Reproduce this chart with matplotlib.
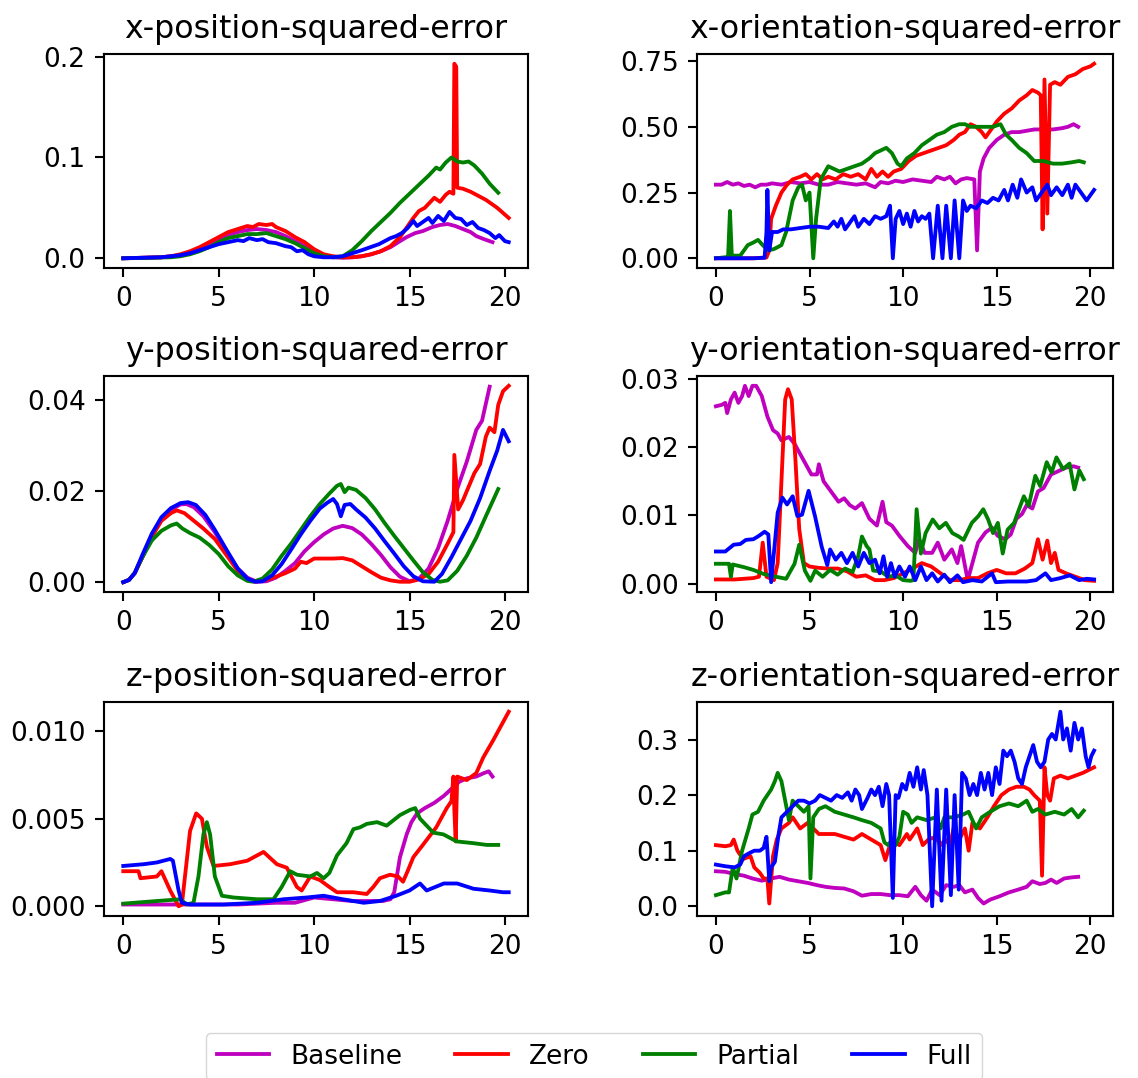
import numpy as np
import matplotlib
matplotlib.use("Agg")
import matplotlib.pyplot as plt

# (time [s], squared error) pairs for each run
xpos_base = [(0, 0.0), (1, 0.0005), (2, 0.001), (2.5, 0.002), (3, 0.003), (3.5, 0.005), (4, 0.009), (4.5, 0.014),
             (5, 0.019), (5.5, 0.023), (6, 0.026), (6.5, 0.028), (7, 0.029), (7.5, 0.028), (8, 0.026), (8.5, 0.022),
             (9, 0.017), (9.5, 0.012), (10, 0.007), (10.5, 0.003), (11, 0.001), (11.5, 0.0005), (12, 0.001),
             (12.5, 0.002), (13, 0.004), (13.5, 0.007), (14, 0.011), (14.5, 0.017), (14.85, 0.021), (15.3, 0.025),
             (15.7, 0.027), (16.2, 0.031), (16.6, 0.033), (17.0, 0.034), (17.4, 0.032), (17.8, 0.029), (18.2, 0.026),
             (18.5, 0.022), (18.9, 0.019), (19.35, 0.016)]
xpos_zero = [(0, 0.0), (1, 0.0005), (2, 0.001), (2.5, 0.002), (3, 0.004), (3.5, 0.007), (4, 0.011), (4.5, 0.016),
             (5, 0.021), (5.5, 0.026), (6, 0.029), (6.5, 0.032), (6.8, 0.031), (7.1, 0.034), (7.5, 0.033),
             (7.8, 0.034), (8, 0.031), (8.5, 0.027), (9, 0.021), (9.5, 0.016), (10, 0.009), (10.5, 0.004),
             (11, 0.002), (11.5, 0.001), (12, 0.001), (12.5, 0.002), (13, 0.004), (13.5, 0.007), (14, 0.012),
             (14.5, 0.021), (14.8, 0.029), (15.2, 0.04), (15.5, 0.047), (15.8, 0.05), (16.1, 0.056), (16.3, 0.06),
             (16.6, 0.056), (16.9, 0.063), (17.1, 0.066), (17.3, 0.064), (17.35, 0.193), (17.45, 0.19), (17.5, 0.07),
             (17.8, 0.069), (18.2, 0.066), (18.6, 0.062), (19, 0.058), (19.3, 0.054), (19.6, 0.05), (19.9, 0.045),
             (20.2, 0.04)]
xpos_partial = [(0, 0.0), (1, 0.0003), (2, 0.0008), (2.5, 0.001), (3, 0.002), (3.5, 0.004), (4, 0.007), (4.5, 0.011),
                (5, 0.016), (5.5, 0.02), (6, 0.022), (6.5, 0.024), (7, 0.024), (7.5, 0.025), (8, 0.022), (8.5, 0.019),
                (9, 0.015), (9.5, 0.01), (10, 0.005), (10.5, 0.002), (11, 0.001), (11.5, 0.002), (12, 0.008),
                (12.5, 0.017), (13, 0.027), (13.5, 0.036), (14, 0.045), (14.5, 0.055), (15, 0.064), (15.5, 0.073),
                (16, 0.082), (16.4, 0.09), (16.6, 0.088), (16.9, 0.095), (17.2, 0.1), (17.5, 0.096), (17.8, 0.095),
                (18.1, 0.096), (18.4, 0.092), (18.8, 0.084), (19.2, 0.074), (19.65, 0.065)]
xpos_full = [(0, 0.0), (1, 0.0005), (2, 0.001), (2.5, 0.002), (3, 0.003), (3.5, 0.005), (4, 0.008), (4.5, 0.011),
             (5, 0.014), (5.5, 0.016), (6, 0.018), (6.3, 0.017), (6.6, 0.02), (7, 0.018), (7.3, 0.019), (7.6, 0.016),
             (8, 0.015), (8.5, 0.012), (8.8, 0.011), (9.1, 0.007), (9.4, 0.008), (9.7, 0.004), (10, 0.002),
             (10.5, 0.001), (11, 0.001), (11.5, 0.002), (12, 0.005), (12.5, 0.008), (12.8, 0.01), (13.1, 0.012),
             (13.4, 0.014), (13.7, 0.017), (14, 0.02), (14.3, 0.022), (14.6, 0.025), (14.9, 0.03), (15.2, 0.037),
             (15.4, 0.032), (15.7, 0.036), (16, 0.04), (16.2, 0.035), (16.5, 0.042), (16.8, 0.037), (17.1, 0.046),
             (17.4, 0.04), (17.7, 0.039), (18, 0.033), (18.3, 0.036), (18.6, 0.03), (18.9, 0.028), (19.2, 0.025),
             (19.5, 0.02), (19.7, 0.023), (20, 0.017), (20.2, 0.016)]

xori_base = [(0, 0.28), (0.3, 0.28), (0.6, 0.29), (0.9, 0.28), (1.2, 0.285), (1.5, 0.275), (1.8, 0.28), (2.1, 0.27),
             (2.4, 0.28), (2.7, 0.28), (3, 0.285), (3.5, 0.28), (4, 0.29), (4.5, 0.285), (5, 0.29), (5.5, 0.28),
             (6, 0.28), (6.5, 0.29), (7, 0.285), (7.5, 0.28), (8, 0.285), (8.5, 0.27), (8.8, 0.29), (9.2, 0.285),
             (9.6, 0.295), (10, 0.29), (10.5, 0.3), (11, 0.295), (11.5, 0.29), (11.8, 0.31), (12.2, 0.3),
             (12.5, 0.31), (12.8, 0.285), (13.1, 0.3), (13.4, 0.305), (13.8, 0.3), (13.95, 0.03), (14.1, 0.33),
             (14.3, 0.38), (14.6, 0.42), (15, 0.45), (15.4, 0.47), (15.8, 0.48), (16.2, 0.48), (16.6, 0.485),
             (17, 0.49), (17.5, 0.49), (18, 0.49), (18.5, 0.495), (18.8, 0.5), (19.1, 0.51), (19.35, 0.5)]
xori_zero = [(0, 0.0), (1, 0.0), (2, 0.0), (2.7, 0.003), (2.85, 0.03), (2.95, 0.15), (3.2, 0.2), (3.5, 0.25),
             (3.8, 0.28), (4.1, 0.3), (4.5, 0.31), (4.8, 0.32), (5.1, 0.3), (5.4, 0.32), (5.7, 0.3), (6, 0.31),
             (6.4, 0.3), (6.8, 0.32), (7.2, 0.31), (7.6, 0.32), (8, 0.3), (8.3, 0.34), (8.6, 0.31), (8.9, 0.33),
             (9.2, 0.31), (9.5, 0.33), (9.9, 0.34), (10.3, 0.37), (10.7, 0.39), (11.1, 0.4), (11.5, 0.41),
             (11.9, 0.42), (12.3, 0.43), (12.7, 0.45), (13.0, 0.47), (13.3, 0.48), (13.6, 0.51), (13.9, 0.5),
             (14.2, 0.48), (14.4, 0.46), (14.7, 0.49), (15.0, 0.52), (15.4, 0.55), (15.8, 0.57), (16.2, 0.6),
             (16.6, 0.62), (16.9, 0.64), (17.2, 0.63), (17.35, 0.62), (17.45, 0.11), (17.55, 0.68), (17.7, 0.17),
             (17.85, 0.66), (18.1, 0.67), (18.4, 0.66), (18.8, 0.69), (19.2, 0.7), (19.6, 0.72), (20.0, 0.73),
             (20.2, 0.74)]
xori_partial = [(0, 0.0), (0.65, 0.005), (0.75, 0.18), (0.85, 0.01), (1.3, 0.01), (1.7, 0.05), (2.0, 0.06),
                (2.25, 0.07), (2.5, 0.05), (2.8, 0.03), (3.1, 0.035), (3.5, 0.05), (3.75, 0.1), (4.1, 0.22),
                (4.4, 0.27), (4.6, 0.28), (4.8, 0.22), (5.0, 0.25), (5.2, 0.0), (5.35, 0.15), (5.6, 0.3), (6.0, 0.35),
                (6.3, 0.34), (6.6, 0.33), (7.0, 0.34), (7.4, 0.35), (7.8, 0.36), (8.2, 0.38), (8.5, 0.4), (8.8, 0.41),
                (9.1, 0.42), (9.4, 0.4), (9.7, 0.36), (9.9, 0.35), (10.2, 0.38), (10.6, 0.4), (11, 0.43), (11.4, 0.45),
                (11.8, 0.47), (12.2, 0.48), (12.6, 0.5), (13, 0.51), (13.3, 0.51), (13.6, 0.5), (14, 0.5),
                (14.4, 0.5), (14.8, 0.5), (15.2, 0.51), (15.5, 0.47), (15.8, 0.45), (16.2, 0.42), (16.6, 0.4),
                (17, 0.37), (17.5, 0.37), (18, 0.36), (18.5, 0.36), (19, 0.365), (19.4, 0.37), (19.65, 0.365)]
xori_full = [(0, 0.0), (1, 0.0), (2, 0.0), (2.6, 0.002), (2.7, 0.1), (2.75, 0.26), (2.85, 0.03), (3.0, 0.1),
             (3.3, 0.1), (3.6, 0.11), (4, 0.11), (4.5, 0.115), (5, 0.12), (5.5, 0.12), (6, 0.115), (6.3, 0.14),
             (6.5, 0.12), (6.7, 0.15), (6.9, 0.11), (7.1, 0.13), (7.4, 0.16), (7.6, 0.12), (7.9, 0.15), (8.2, 0.13),
             (8.5, 0.16), (8.8, 0.15), (9.1, 0.16), (9.3, 0.2), (9.45, 0.0), (9.6, 0.15), (9.8, 0.18), (10.0, 0.13),
             (10.2, 0.17), (10.4, 0.12), (10.6, 0.18), (10.8, 0.14), (11.0, 0.16), (11.2, 0.15), (11.4, 0.17),
             (11.6, 0.0), (11.85, 0.2), (12.1, 0.0), (12.3, 0.2), (12.55, 0.0), (12.75, 0.22), (13.0, 0.0),
             (13.2, 0.22), (13.4, 0.18), (13.6, 0.2), (13.9, 0.19), (14.2, 0.22), (14.5, 0.21), (14.8, 0.23),
             (15.1, 0.22), (15.4, 0.26), (15.6, 0.22), (15.85, 0.28), (16.1, 0.23), (16.3, 0.3), (16.6, 0.25),
             (16.9, 0.27), (17.1, 0.22), (17.4, 0.25), (17.7, 0.28), (17.9, 0.24), (18.2, 0.27), (18.5, 0.24),
             (18.8, 0.28), (19.0, 0.23), (19.2, 0.28), (19.5, 0.25), (19.8, 0.22), (20.0, 0.24), (20.2, 0.26)]

ypos_base = [(0, 0.0), (0.3, 0.0005), (0.6, 0.002), (1, 0.0055), (1.5, 0.0105), (2, 0.0138), (2.5, 0.016),
             (3, 0.0171), (3.3, 0.0172), (3.7, 0.0165), (4.2, 0.0145), (4.8, 0.011), (5.4, 0.0068), (6, 0.003),
             (6.5, 0.001), (7, 0.0001), (7.5, 0.0002), (8, 0.001), (8.5, 0.0025), (9, 0.0042), (9.5, 0.0068),
             (10, 0.0088), (10.5, 0.0105), (11, 0.0118), (11.5, 0.0124), (12, 0.0119), (12.5, 0.0105), (13, 0.0084),
             (13.5, 0.006), (14, 0.0033), (14.5, 0.0012), (15, 0.0002), (15.5, 0.0008), (16, 0.003), (16.5, 0.0075),
             (17, 0.0135), (17.5, 0.0205), (18, 0.0265), (18.5, 0.0335), (18.8, 0.0355), (19.2, 0.043)]
ypos_zero = [(0, 0.0), (0.3, 0.0005), (0.6, 0.002), (1, 0.0055), (1.5, 0.01), (2, 0.0135), (2.5, 0.0152),
             (2.8, 0.0158), (3.2, 0.0152), (3.7, 0.0135), (4.2, 0.0118), (4.8, 0.0095), (5.4, 0.006), (6, 0.0025),
             (6.5, 0.0007), (6.9, 0.0001), (7.5, 0.0005), (8, 0.0012), (8.5, 0.002), (9, 0.003), (9.3, 0.0045),
             (9.6, 0.0042), (10, 0.0052), (10.5, 0.0052), (11, 0.0052), (11.5, 0.0053), (12, 0.0048), (12.5, 0.0035),
             (13, 0.0022), (13.5, 0.001), (14, 0.0004), (14.5, 0.0001), (15, 0.0001), (15.5, 0.0006), (16, 0.0018),
             (16.5, 0.0045), (17, 0.0085), (17.3, 0.011), (17.35, 0.028), (17.55, 0.016), (17.8, 0.018),
             (18.1, 0.021), (18.4, 0.024), (18.7, 0.026), (19, 0.032), (19.2, 0.034), (19.45, 0.033),
             (19.65, 0.039), (19.9, 0.042), (20.2, 0.0432)]
ypos_partial = [(0, 0.0), (0.3, 0.0005), (0.6, 0.002), (1, 0.0055), (1.5, 0.0092), (2, 0.0113), (2.5, 0.0125),
                (2.8, 0.0129), (3.1, 0.0118), (3.5, 0.0108), (4, 0.0098), (4.5, 0.0082), (5, 0.0062), (5.5, 0.0035),
                (6, 0.0015), (6.5, 0.0003), (6.8, 0.0001), (7.3, 0.0008), (7.8, 0.0028), (8.3, 0.0058),
                (8.8, 0.0085), (9.3, 0.0115), (9.8, 0.0145), (10.3, 0.0172), (10.8, 0.0195), (11.2, 0.0212),
                (11.4, 0.0216), (11.6, 0.0198), (11.8, 0.0208), (12.2, 0.0203), (12.7, 0.0185), (13.2, 0.016),
                (13.7, 0.013), (14.2, 0.0102), (14.7, 0.0075), (15.2, 0.0048), (15.7, 0.0022), (16.2, 0.0005),
                (16.6, 0.0001), (17, 0.0004), (17.5, 0.0025), (18, 0.0058), (18.5, 0.0098), (19, 0.0145),
                (19.65, 0.0205)]
ypos_full = [(0, 0.0), (0.3, 0.0005), (0.6, 0.002), (1, 0.006), (1.5, 0.0107), (2, 0.0143), (2.5, 0.0163),
             (3, 0.0174), (3.4, 0.0176), (3.8, 0.017), (4.3, 0.0148), (4.8, 0.0115), (5.4, 0.0072), (6, 0.003),
             (6.5, 0.0008), (6.9, 0.0001), (7.3, 0.0002), (7.8, 0.0015), (8.3, 0.004), (8.8, 0.0072), (9.3, 0.0105),
             (9.8, 0.0135), (10.3, 0.0162), (10.7, 0.0175), (11, 0.0183), (11.2, 0.0172), (11.4, 0.0145),
             (11.6, 0.017), (11.9, 0.0172), (12.2, 0.016), (12.7, 0.0142), (13.2, 0.0118), (13.7, 0.009),
             (14.2, 0.0063), (14.7, 0.0035), (15.2, 0.0013), (15.7, 0.0002), (16.3, 0.0001), (16.7, 0.0018),
             (17.2, 0.0055), (17.7, 0.0095), (18.2, 0.0135), (18.7, 0.0185), (19.2, 0.0245), (19.6, 0.029),
             (19.9, 0.0335), (20.2, 0.031)]

yori_base = [(0, 0.026), (0.3, 0.0262), (0.5, 0.0265), (0.6, 0.025), (0.8, 0.027), (1.0, 0.028), (1.2, 0.0265),
             (1.4, 0.0275), (1.55, 0.029), (1.75, 0.0275), (1.95, 0.029), (2.15, 0.029), (2.45, 0.0275),
             (2.75, 0.0245), (3.05, 0.0225), (3.3, 0.022), (3.5, 0.021), (3.9, 0.0215), (4.2, 0.0205), (4.5, 0.019),
             (4.9, 0.017), (5.1, 0.016), (5.4, 0.016), (5.5, 0.0175), (5.75, 0.015), (6.15, 0.0135), (6.55, 0.012),
             (6.85, 0.0125), (7.15, 0.0115), (7.45, 0.011), (7.8, 0.0118), (8.2, 0.0095), (8.6, 0.0085),
             (8.9, 0.012), (9.1, 0.009), (9.4, 0.0085), (9.8, 0.007), (10.25, 0.0055), (10.65, 0.0045),
             (10.85, 0.0065), (11.15, 0.0045), (11.55, 0.0045), (11.85, 0.006), (12.2, 0.0035), (12.6, 0.005),
             (12.9, 0.003), (13.1, 0.0055), (13.45, 0.0005), (13.7, 0.003), (14.0, 0.006), (14.4, 0.0075),
             (14.75, 0.0082), (15.05, 0.007), (15.45, 0.0065), (15.75, 0.0072), (16.05, 0.0095), (16.35, 0.0102),
             (16.6, 0.0115), (16.9, 0.011), (17.2, 0.0135), (17.5, 0.014), (17.9, 0.016), (18.3, 0.0165),
             (18.7, 0.017), (19.1, 0.0172), (19.35, 0.017)]
yori_zero = [(0, 0.0006), (1, 0.0006), (2, 0.0008), (2.3, 0.001), (2.5, 0.006), (2.7, 0.001), (3.1, 0.0005),
             (3.3, 0.003), (3.5, 0.015), (3.7, 0.027), (3.85, 0.0285), (4.05, 0.027), (4.25, 0.018), (4.45, 0.008),
             (4.7, 0.003), (5.0, 0.0025), (5.5, 0.0023), (6.0, 0.0022), (6.5, 0.0022), (7.0, 0.0018), (7.5, 0.001),
             (8.0, 0.0012), (8.5, 0.0005), (9.0, 0.0005), (9.5, 0.0008), (10.0, 0.0015), (10.5, 0.0022),
             (11.0, 0.003), (11.5, 0.0025), (12.0, 0.0015), (12.5, 0.0005), (13.0, 0.0005), (13.5, 0.0008),
             (14.0, 0.0008), (14.5, 0.0015), (15.0, 0.002), (15.5, 0.0015), (16.0, 0.0015), (16.5, 0.0022),
             (16.9, 0.003), (17.2, 0.0065), (17.45, 0.0035), (17.7, 0.0063), (17.9, 0.003), (18.1, 0.0045),
             (18.3, 0.002), (18.7, 0.0015), (19.2, 0.001), (19.7, 0.0005), (20.2, 0.0004)]
yori_partial = [(0, 0.0029), (0.7, 0.0029), (0.8, 0.001), (0.9, 0.0028), (1.5, 0.0024), (2.0, 0.002),
                (2.55, 0.0014), (3.2, 0.001), (3.75, 0.0007), (4.2, 0.0029), (4.45, 0.0057), (4.75, 0.0019),
                (5.05, 0.0004), (5.3, 0.0019), (5.7, 0.001), (6.1, 0.002), (6.5, 0.0013), (6.9, 0.0022),
                (7.3, 0.0017), (7.6, 0.004), (7.8, 0.0069), (8.05, 0.0055), (8.2, 0.005), (8.4, 0.0019),
                (8.8, 0.0018), (9.2, 0.001), (9.6, 0.0012), (10.0, 0.0005), (10.4, 0.0004), (10.55, 0.0005),
                (10.72, 0.0109), (10.95, 0.0044), (11.2, 0.0074), (11.58, 0.0094), (11.93, 0.0081), (12.28, 0.0089),
                (12.63, 0.0074), (12.97, 0.0069), (13.23, 0.0064), (13.67, 0.0089), (14.02, 0.0099),
                (14.28, 0.0109), (14.54, 0.0094), (14.8, 0.0074), (15.06, 0.0089), (15.32, 0.0044),
                (15.58, 0.0079), (15.93, 0.0089), (16.19, 0.0109), (16.45, 0.0128), (16.71, 0.0114),
                (17.06, 0.0158), (17.32, 0.0143), (17.67, 0.0178), (17.93, 0.0163), (18.19, 0.0185),
                (18.54, 0.0168), (18.89, 0.0176), (19.15, 0.0138), (19.41, 0.0166), (19.65, 0.0153)]
yori_full = [(0, 0.0047), (0.5, 0.0047), (0.95, 0.0057), (1.3, 0.0058), (1.6, 0.0064), (2.0, 0.0065), (2.3, 0.007),
             (2.6, 0.0076), (2.8, 0.0072), (2.95, 0.0002), (3.3, 0.0104), (3.55, 0.0126), (3.8, 0.0116),
             (4.1, 0.0128), (4.35, 0.0099), (4.6, 0.0101), (4.95, 0.0136), (5.3, 0.0098), (5.65, 0.0054),
             (5.95, 0.0027), (6.1, 0.005), (6.4, 0.0035), (6.7, 0.0045), (7.0, 0.003), (7.3, 0.0045), (7.6, 0.0025),
             (7.9, 0.0045), (8.2, 0.003), (8.5, 0.0035), (8.75, 0.0015), (8.95, 0.004), (9.15, 0.001), (9.35, 0.003),
             (9.55, 0.001), (9.8, 0.0025), (10.1, 0.001), (10.35, 0.0025), (10.65, 0.0005), (10.95, 0.0025),
             (11.25, 0.0005), (11.55, 0.0015), (11.85, 0.0003), (12.2, 0.0013), (12.5, 0.0002), (12.9, 0.0012),
             (13.2, 0.0002), (13.7, 0.0005), (14.2, 0.0003), (14.75, 0.0015), (14.95, 0.0002), (15.6, 0.0003),
             (16.6, 0.0003), (17.1, 0.0005), (17.6, 0.0015), (17.9, 0.0005), (18.4, 0.0008), (18.9, 0.0012),
             (19.4, 0.0005), (19.8, 0.0007), (20.2, 0.0006)]

zpos_base = [(0, 0.0001), (2, 0.0001), (4, 0.0001), (6, 0.0001), (8, 0.0002), (9, 0.0002), (10, 0.0005),
             (11, 0.0004), (12, 0.0003), (13, 0.0003), (13.6, 0.0003), (14.0, 0.0004), (14.2, 0.0008),
             (14.5, 0.0028), (14.85, 0.0041), (15.1, 0.0048), (15.4, 0.0053), (15.8, 0.0056), (16.3, 0.0059),
             (16.8, 0.0063), (17.2, 0.0067), (17.6, 0.0071), (18.0, 0.0073), (18.5, 0.0074), (18.9, 0.0076),
             (19.15, 0.0077), (19.35, 0.0074)]
zpos_zero = [(0, 0.002), (0.8, 0.002), (0.9, 0.0016), (1.76, 0.0017), (2.0, 0.002), (2.46, 0.0009), (2.9, 0.0),
             (3.07, 0.0001), (3.5, 0.0043), (3.82, 0.0053), (4.12, 0.005), (4.38, 0.0034), (4.73, 0.0023),
             (5.6, 0.0024), (6.5, 0.0026), (7.35, 0.0031), (8.05, 0.0024), (8.57, 0.0022), (9.1, 0.0011),
             (9.35, 0.0009), (9.8, 0.0017), (10.3, 0.0015), (10.8, 0.0011), (11.2, 0.0008), (12.06, 0.0008),
             (12.76, 0.0007), (13.1, 0.0011), (13.45, 0.0016), (13.98, 0.0018), (14.4, 0.0017), (14.66, 0.0014),
             (14.9, 0.002), (15.2, 0.0028), (15.7, 0.0035), (16.4, 0.0045), (16.95, 0.0056), (17.2, 0.006),
             (17.3, 0.0074), (17.35, 0.0055), (17.42, 0.0037), (17.5, 0.0074), (18.0, 0.0072), (18.5, 0.0076),
             (18.87, 0.0085), (19.4, 0.0095), (19.8, 0.0103), (20.2, 0.0111)]
zpos_partial = [(0, 0.00015), (1.76, 0.0003), (2.99, 0.0004), (3.33, 0.0001), (3.68, 0.0002), (3.94, 0.0017),
                (4.2, 0.0041), (4.38, 0.0048), (4.55, 0.0041), (4.8, 0.0017), (5.17, 0.0006), (5.78, 0.0005),
                (7.0, 0.0004), (7.87, 0.0004), (8.3, 0.0011), (8.75, 0.002), (9.1, 0.0018), (9.8, 0.0017),
                (10.15, 0.0019), (10.5, 0.0016), (10.8, 0.0019), (11.2, 0.0029), (11.7, 0.0036), (12.06, 0.0044),
                (12.4, 0.0045), (12.76, 0.0047), (13.3, 0.0048), (13.8, 0.0046), (14.15, 0.0049), (14.5, 0.0052),
                (15.03, 0.0055), (15.3, 0.0056), (15.55, 0.005), (16.25, 0.0042), (16.78, 0.0041), (17.47, 0.0037),
                (18.35, 0.0036), (19.05, 0.0035), (19.65, 0.0035)]
zpos_full = [(0, 0.0023), (1.07, 0.0024), (1.76, 0.0025), (2.46, 0.0027), (2.6, 0.0026), (2.9, 0.0009),
             (3.07, 0.0002), (3.5, 0.0001), (5.25, 0.0001), (7.0, 0.0002), (8.4, 0.0004), (9.6, 0.0005),
             (10.5, 0.0006), (11.5, 0.0004), (12.6, 0.0002), (13.45, 0.0003), (14.3, 0.0006), (15.0, 0.0009),
             (15.55, 0.0013), (15.9, 0.0009), (16.8, 0.0013), (17.5, 0.0013), (18.35, 0.001), (19.2, 0.0009),
             (19.9, 0.0008), (20.2, 0.0008)]

zori_base = [(0, 0.063), (0.5, 0.062), (1, 0.058), (1.5, 0.055), (1.95, 0.05), (2.45, 0.046), (2.95, 0.05),
             (3.4, 0.053), (3.9, 0.048), (4.4, 0.045), (4.9, 0.042), (5.4, 0.038), (5.85, 0.035), (6.35, 0.033),
             (6.85, 0.032), (7.35, 0.027), (7.8, 0.019), (8.3, 0.022), (8.8, 0.022), (9.3, 0.02), (9.8, 0.02),
             (10.25, 0.018), (10.65, 0.035), (10.95, 0.02), (11.25, 0.01), (11.55, 0.03), (11.95, 0.02),
             (12.3, 0.038), (12.7, 0.035), (13.0, 0.038), (13.3, 0.025), (13.7, 0.03), (14.0, 0.015), (14.3, 0.005),
             (14.65, 0.012), (15.15, 0.018), (15.65, 0.025), (16.15, 0.03), (16.6, 0.035), (16.9, 0.045),
             (17.3, 0.04), (17.6, 0.042), (17.9, 0.048), (18.2, 0.042), (18.6, 0.05), (19.0, 0.052), (19.35, 0.053)]
zori_zero = [(0, 0.11), (0.5, 0.108), (0.8, 0.11), (0.95, 0.12), (1.15, 0.1), (1.45, 0.085), (1.85, 0.09),
             (2.05, 0.07), (2.35, 0.06), (2.55, 0.05), (2.75, 0.05), (2.85, 0.005), (3.05, 0.09), (3.25, 0.12),
             (3.5, 0.14), (3.9, 0.15), (4.1, 0.16), (4.5, 0.14), (4.9, 0.15), (5.2, 0.14), (5.5, 0.13), (6.35, 0.13),
             (6.85, 0.125), (7.35, 0.12), (7.8, 0.13), (8.3, 0.12), (8.8, 0.11), (9.05, 0.083), (9.2, 0.1),
             (9.4, 0.12), (9.8, 0.11), (10.2, 0.13), (10.35, 0.12), (10.75, 0.14), (11.05, 0.11), (11.35, 0.12),
             (11.75, 0.125), (12.0, 0.11), (12.25, 0.12), (12.5, 0.11), (12.7, 0.14), (13.0, 0.12), (13.3, 0.14),
             (13.5, 0.1), (13.7, 0.15), (14.1, 0.14), (14.5, 0.16), (14.85, 0.18), (15.25, 0.2), (15.65, 0.21),
             (16.05, 0.215), (16.45, 0.215), (16.75, 0.21), (17.0, 0.2), (17.3, 0.19), (17.42, 0.055),
             (17.55, 0.25), (17.7, 0.2), (17.85, 0.19), (18.05, 0.23), (18.4, 0.235), (18.8, 0.23), (19.2, 0.235),
             (19.6, 0.24), (19.9, 0.245), (20.2, 0.25)]
zori_partial = [(0, 0.02), (0.5, 0.025), (0.7, 0.025), (0.9, 0.07), (1.1, 0.05), (1.4, 0.1), (1.75, 0.14),
                (1.95, 0.165), (2.25, 0.17), (2.55, 0.19), (2.75, 0.2), (2.95, 0.21), (3.15, 0.225), (3.3, 0.24),
                (3.5, 0.225), (3.7, 0.19), (3.9, 0.155), (4.1, 0.19), (4.4, 0.18), (4.7, 0.17), (4.95, 0.18),
                (5.05, 0.05), (5.2, 0.16), (5.5, 0.175), (5.85, 0.18), (6.35, 0.17), (6.85, 0.165), (7.35, 0.16),
                (7.8, 0.155), (8.3, 0.15), (8.8, 0.14), (9.0, 0.115), (9.2, 0.11), (9.4, 0.12), (9.6, 0.11),
                (9.8, 0.125), (10.0, 0.17), (10.25, 0.165), (10.45, 0.15), (10.75, 0.16), (11.25, 0.155),
                (11.75, 0.16), (12.0, 0.14), (12.2, 0.16), (12.7, 0.16), (13.2, 0.165), (13.5, 0.17), (13.9, 0.14),
                (14.2, 0.16), (14.65, 0.17), (15.15, 0.18), (15.65, 0.185), (16.15, 0.18), (16.6, 0.19),
                (16.9, 0.17), (17.2, 0.175), (17.6, 0.165), (18.1, 0.17), (18.6, 0.165), (19.0, 0.175),
                (19.35, 0.16), (19.65, 0.172)]
zori_full = [(0, 0.075), (0.5, 0.072), (1.0, 0.07), (1.3, 0.075), (1.5, 0.09), (1.75, 0.095), (2.05, 0.1),
             (2.35, 0.1), (2.55, 0.105), (2.7, 0.125), (2.75, 0.1), (2.85, 0.045), (2.95, 0.07), (3.15, 0.08),
             (3.35, 0.13), (3.5, 0.16), (3.8, 0.17), (4.1, 0.18), (4.4, 0.19), (4.7, 0.19), (5.0, 0.185),
             (5.3, 0.19), (5.55, 0.2), (5.85, 0.195), (6.15, 0.19), (6.45, 0.2), (6.75, 0.195), (7.05, 0.205),
             (7.25, 0.19), (7.45, 0.21), (7.65, 0.2), (7.8, 0.175), (8.1, 0.195), (8.3, 0.21), (8.5, 0.2),
             (8.7, 0.215), (8.9, 0.18), (9.1, 0.22), (9.25, 0.2), (9.45, 0.015), (9.6, 0.2), (9.75, 0.195),
             (9.95, 0.22), (10.15, 0.21), (10.35, 0.24), (10.55, 0.215), (10.75, 0.25), (10.95, 0.21), (11.1, 0.245),
             (11.3, 0.2), (11.55, 0.0), (11.8, 0.21), (12.05, 0.01), (12.3, 0.21), (12.55, 0.02), (12.75, 0.2),
             (12.97, 0.03), (13.15, 0.24), (13.35, 0.23), (13.55, 0.2), (13.75, 0.22), (13.95, 0.2), (14.15, 0.24),
             (14.35, 0.21), (14.55, 0.24), (14.75, 0.2), (14.95, 0.25), (15.15, 0.22), (15.35, 0.28), (15.55, 0.27),
             (15.75, 0.28), (15.95, 0.26), (16.15, 0.23), (16.35, 0.22), (16.55, 0.25), (16.75, 0.27), (16.95, 0.29),
             (17.15, 0.26), (17.35, 0.25), (17.55, 0.26), (17.75, 0.3), (17.95, 0.31), (18.15, 0.3), (18.4, 0.35),
             (18.55, 0.3), (18.75, 0.32), (18.95, 0.28), (19.15, 0.33), (19.35, 0.3), (19.55, 0.32), (19.75, 0.27),
             (19.9, 0.25), (20.05, 0.27), (20.2, 0.28)]

labels = ["Baseline", "Zero", "Partial", "Full"]
colors = ["m", "r", "g", "b"]

panels = [
    ("x-position-squared-error", [xpos_base, xpos_zero, xpos_partial, xpos_full]),
    ("x-orientation-squared-error", [xori_base, xori_zero, xori_partial, xori_full]),
    ("y-position-squared-error", [ypos_base, ypos_zero, ypos_partial, ypos_full]),
    ("y-orientation-squared-error", [yori_base, yori_zero, yori_partial, yori_full]),
    ("z-position-squared-error", [zpos_base, zpos_zero, zpos_partial, zpos_full]),
    ("z-orientation-squared-error", [zori_base, zori_zero, zori_partial, zori_full]),
]

s = 1.9
plt.rcParams.update({
    "font.size": 10 * s,
    "axes.titlesize": 12 * s,
    "legend.fontsize": 10 * s,
    "lines.linewidth": 1.45 * s,
    "axes.linewidth": 0.8 * s,
    "xtick.major.size": 3.5 * s,
    "ytick.major.size": 3.5 * s,
    "xtick.major.width": 0.8 * s,
    "ytick.major.width": 0.8 * s,
    "xtick.major.pad": 3.5 * s,
    "ytick.major.pad": 3.5 * s,
    "axes.titlepad": 6 * s,
})

W, H = 1138, 1078
fig, axes = plt.subplots(3, 2, figsize=(W / 100, H / 100), dpi=100)

col_left = [104 / W, 697 / W]
col_width = [424 / W, 416 / W]
row_top = [54, 376, 702]
row_height = [214, 216, 214]

for i, (title, series) in enumerate(panels):
    r, c = divmod(i, 2)
    ax = axes[r, c]
    ax.set_position([col_left[c], 1 - (row_top[r] + row_height[r]) / H, col_width[c], row_height[r] / H])
    for data, color, label in zip(series, colors, labels):
        t, v = zip(*data)
        ax.plot(t, v, color=color, label=label)
    ax.set_title(title)
    ax.set_xticks([0, 5, 10, 15, 20])

handles, _ = axes[0, 0].get_legend_handles_labels()
fig.legend(handles, labels, loc="upper center", ncol=4,
           bbox_to_anchor=(594 / W, 1 - 1033 / H), borderaxespad=0.0)

fig.savefig("out.png", dpi=100)
